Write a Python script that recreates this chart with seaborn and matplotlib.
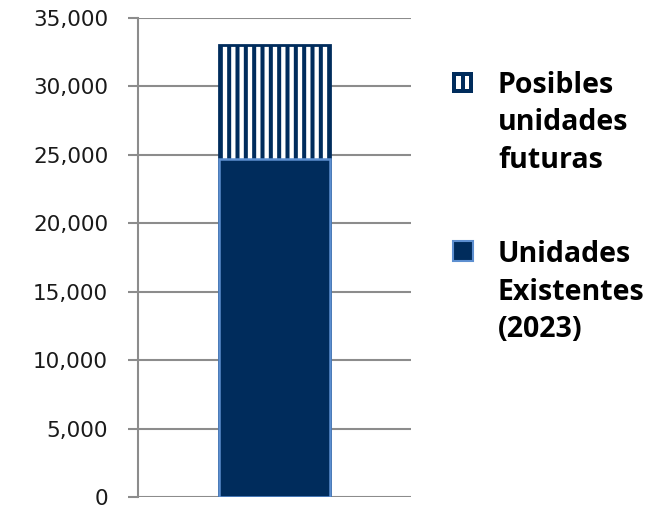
import matplotlib
matplotlib.use("Agg")
import matplotlib.pyplot as plt
from matplotlib.patches import Rectangle
from matplotlib.ticker import FuncFormatter, MultipleLocator
import seaborn as sns
import pandas as pd

# Data
categoria = ["Unidades"]
unidades_existentes = [24700]
posibles_futuras = [8300]
etiquetas = ["Posibles\nunidades\nfuturas", "Unidades\nExistentes\n(2023)"]

NAVY = "#002c5c"
EDGE_LIGHT = "#5d8fd0"
GRID = "#8c8c8c"

sns.set_theme(style="white")
plt.rcParams["font.family"] = ["DejaVu Sans"]
plt.rcParams["hatch.linewidth"] = 2.9

total = [e + f for e, f in zip(unidades_existentes, posibles_futuras)]
df = pd.DataFrame({"cat": categoria, "existentes": unidades_existentes, "total": total})

fig = plt.figure(figsize=(6.69, 5.08), dpi=100)
ax = fig.add_axes([138 / 669, 1 - 497 / 508, (411 - 138) / 669, (497 - 18) / 508])

# Stacked column: full height hatched, existing units drawn over it
sns.barplot(data=df, x="cat", y="total", ax=ax, color="white", width=0.407,
            edgecolor=NAVY, linewidth=2.0, hatch="||", saturation=1, zorder=3)
sns.barplot(data=df, x="cat", y="existentes", ax=ax, color=NAVY, width=0.407,
            edgecolor=EDGE_LIGHT, linewidth=1.8, saturation=1, zorder=4)

ax.set_xlim(-0.5, 0.5)
ax.set_ylim(0, 35000)
ax.yaxis.set_major_locator(MultipleLocator(5000))
ax.yaxis.set_major_formatter(FuncFormatter(lambda v, p: f"{int(v):,}"))
ax.set_xlabel("")
ax.set_ylabel("")
ax.set_xticks([])

ax.grid(axis="y", color=GRID, linewidth=1.5, zorder=0)
ax.set_axisbelow(True)
for s in ["top", "right", "bottom"]:
    ax.spines[s].set_visible(False)
ax.spines["left"].set_color(GRID)
ax.spines["left"].set_linewidth(1.5)
ax.tick_params(axis="y", which="major", direction="out", length=7.5, width=1.5,
               color=GRID, labelsize=15.5, labelcolor="#1a1a1a", pad=14)
ax.tick_params(axis="y", left=True)

# Legend drawn at the right of the chart
W, H = 669, 508

def fig_rect(x0, y0, w, h, **kw):
    fig.patches.append(Rectangle((x0 / W, 1 - (y0 + h) / H), w / W, h / H,
                                 transform=fig.transFigure, figure=fig, **kw))

# Hatched handle
fig_rect(452, 72, 21, 21, facecolor=NAVY, edgecolor=NAVY, linewidth=0)
fig_rect(456, 76, 4.5, 13, facecolor="white", edgecolor="none")
fig_rect(464.5, 76, 4.5, 13, facecolor="white", edgecolor="none")
# Solid handle
fig_rect(453, 241, 20, 20, facecolor=NAVY, edgecolor=EDGE_LIGHT, linewidth=1.5)

LINE_STEP = 37.5
for label, base in zip(etiquetas, [93, 262]):
    for i, line in enumerate(label.split("\n")):
        fig.text(498 / W, 1 - (base + i * LINE_STEP) / H, line, ha="left",
                 va="baseline", fontsize=20.5, fontweight="bold", color="black",
                 family=["Open Sans", "DejaVu Sans"])

fig.savefig("out.png", dpi=100)
